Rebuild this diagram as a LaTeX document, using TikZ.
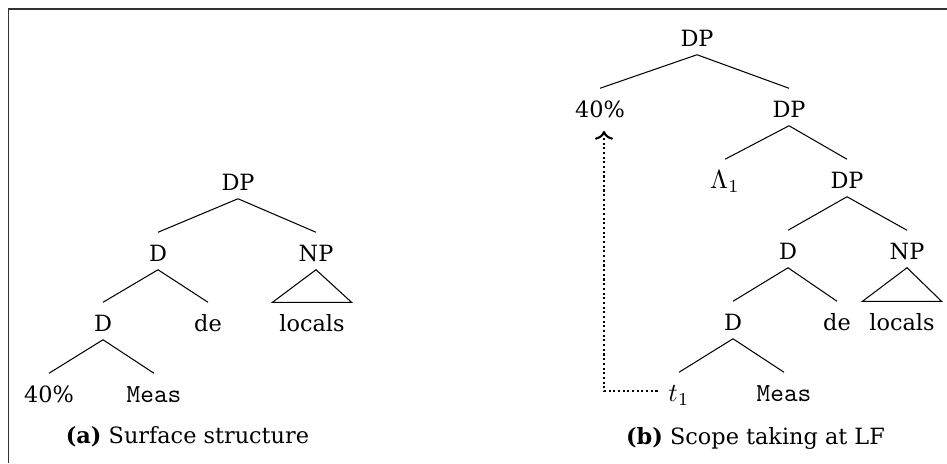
\documentclass[tikz,border=0pt]{standalone}
\usepackage{fontspec}
\setmainfont[Scale=0.86]{DejaVu Serif}
\usetikzlibrary{arrows.meta, calc}

\begin{document}
\begin{tikzpicture}[
            x=0.0135cm, y=-0.0135cm,
            >={To},
            lbl/.style={inner sep=1pt, text height=10pt, text depth=2pt},
            trace/.style={->, densely dotted, thick, shorten <=3pt, shorten >=2pt}
        ]
        \useasboundingbox (0, 0) rectangle (947, 463);

        % Frame
        \draw[line width=0.6pt, black!80] (8.5, 463) -- (8.5, 9) -- (947, 9);

        % Surface structure
        \node [lbl] (dp_a)   at (238, 180) {DP};
        \node [lbl] (d_a)    at (158, 251) {D};
        \node [lbl] (np_a)   at (316, 251) {NP};
        \node [lbl] (dd_a)   at (103, 321) {D};
        \node [lbl] (de_a)   at (208, 321) {de};
        \node [lbl] (loc_a)  at (312, 321) {locals};
        \node [lbl] (pct_a)  at (49, 392)  {40\%};
        \node [lbl] (meas_a) at (154, 392) {\texttt{Meas}};

        \draw (dp_a.south) -- (d_a.north);
        \draw (dp_a.south) -- (np_a.north);
        \draw (d_a.south)  -- (dd_a.north);
        \draw (d_a.south)  -- (de_a.north);
        \draw (dd_a.south) -- (pct_a.north);
        \draw (dd_a.south) -- (meas_a.north);
        \draw (np_a.south) -- ($(loc_a.north) + (-39.5, 0)$) -- ($(loc_a.north) + (39.5, 0)$) -- cycle;

        \node (cap_a) at (187.5, 437) {\textbf{(a)} Surface structure};

        % Scope taking at LF
        \node [lbl] (dp_b)   at (697, 36)  {DP};
        \node [lbl] (pct_b)  at (600, 107) {40\%};
        \node [lbl] (dpp_b)  at (789, 107) {DP};
        \node [lbl] (lam_b)  at (725, 178) {$\Lambda_1$};
        \node [lbl] (dppp_b) at (847, 178) {DP};
        \node [lbl] (d_b)    at (788, 249) {D};
        \node [lbl] (np_b)   at (907, 249) {NP};
        \node [lbl] (dd_b)   at (733, 320) {D};
        \node [lbl] (de_b)   at (837, 320) {de};
        \node [lbl] (loc_b)  at (902, 320) {locals};
        \node [lbl] (t_b)    at (679, 391) {$t_1$};
        \node [lbl] (meas_b) at (784, 391) {\texttt{Meas}};

        \draw (dp_b.south)   -- (pct_b.north);
        \draw (dp_b.south)   -- (dpp_b.north);
        \draw (dpp_b.south)  -- (lam_b.north);
        \draw (dpp_b.south)  -- (dppp_b.north);
        \draw (dppp_b.south) -- (d_b.north);
        \draw (dppp_b.south) -- (np_b.north);
        \draw (d_b.south)    -- (dd_b.north);
        \draw (d_b.south)    -- (de_b.north);
        \draw (dd_b.south)   -- (t_b.north);
        \draw (dd_b.south)   -- (meas_b.north);
        \draw (np_b.south) -- ($(loc_b.north) + (-39.5, 0)$) -- ($(loc_b.north) + (39.5, 0)$) -- cycle;

        % Movement trace
        \draw[trace] (t_b.west) -| ($(pct_b.south) + (4, 0)$);

        \node (cap_b) at (755.5, 438) {\textbf{(b)} Scope taking at LF};
    \end{tikzpicture}
\end{document}
